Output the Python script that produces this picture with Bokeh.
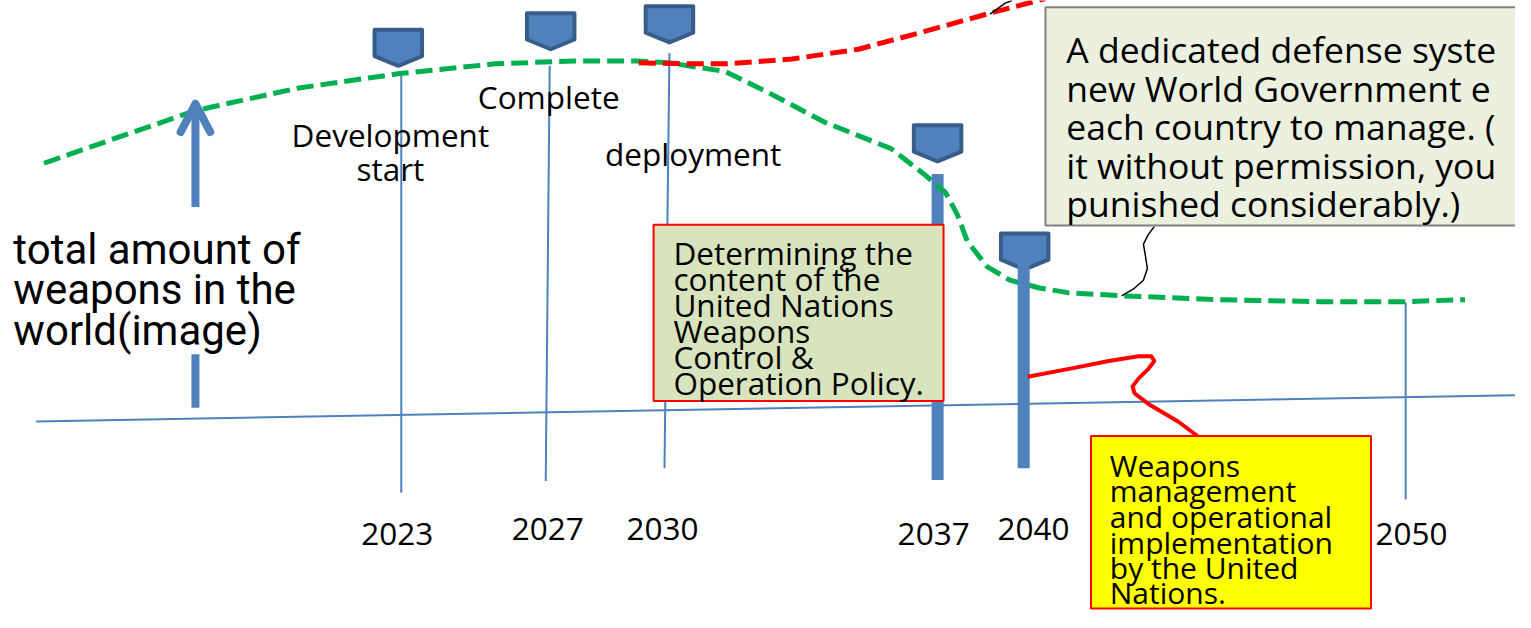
from bokeh.plotting import figure
from bokeh.models import Range1d
from bokeh.core.properties import value
from bokeh.embed import file_html
from bokeh.resources import INLINE

# ---------------- data ----------------
year_labels = ["2023", "2027", "2030", "2037", "2040", "2050"]
year_label_x = [401, 553, 669, 943, 1044, 1426]
year_label_y = [547, 542, 542, 547, 542, 547]

# thin milestone lines (top -> bottom)
thin_x0 = [405, 555, 676, 1420]
thin_y0 = [76, 67, 54, 310]
thin_x1 = [405, 551, 671, 1420]
thin_y1 = [505, 493, 480, 512]

# thick bars (2037, 2040)
bar_x = [947, 1034]
bar_top = [178, 258]
bar_bottom = [492, 480]

# milestone shield markers (center x, top y)
marker_x = [402, 556, 676, 947, 1035]
marker_top = [30, 13, 6, 128, 239]

# green dashed: total amount of weapons
green_x = [44, 120, 197, 300, 403, 500, 580, 643, 676, 733, 777, 833, 900, 933,
           955, 967, 977, 997, 1020, 1050, 1080, 1133, 1230, 1333, 1420, 1480]
green_y = [167, 140, 113, 90, 75, 65, 62, 62, 64, 73, 95, 125, 152, 178,
           197, 220, 247, 273, 287, 295, 300, 303, 307, 309, 309, 307]

# red dashed: alternative path
red_x = [645, 700, 733, 800, 867, 933, 1000, 1030, 1056]
red_y = [64, 65, 65, 60, 50, 32, 13, 5, -2]

# baseline (time axis)
base_x = [36, 1531]
base_y = [432, 405]

# left arrow
arrow_x = 197
arrow_low = [363, 418]
arrow_high = [110, 212]
arrow_head_x = [182, 197, 212]
arrow_head_y = [135, 106, 135]

left_lines = ["total amount of", "weapons in the", "world(image)"]
left_y = [255, 297, 339]

stage_labels = ["Development", "start", "Complete", "deployment"]
stage_x = [394, 394, 554, 700]
stage_y = [138, 172, 98, 157]

green_box = dict(left=660, right=953, top=230, bottom=411)
green_lines = ["Determining the", "content of the", "United Nations", "Weapons",
               "Control &", "Operation Policy."]
green_text_y = [259, 285.5, 312, 338.5, 365, 391.5]

yellow_box = dict(left=1102, right=1385, top=447, bottom=624)
yellow_lines = ["Weapons", "management", "and operational", "implementation",
                "by the United", "Nations."]
yellow_text_y = [477, 503, 529.5, 556, 582, 607]

top_box = dict(left=1056, right=1600, top=7, bottom=231)
# the box runs past the right edge of the picture; only the visible part is written
top_lines = ["A dedicated defense syste",
             "new World Government e",
             "each country to manage. (",
             "it without permission, you",
             "punished considerably.)"]
top_text_y = [50, 89.5, 129, 168.5, 208]

connector_x = [1038, 1080, 1120, 1150, 1163, 1166, 1160, 1150, 1144, 1146, 1160, 1190, 1215]
connector_y = [386, 378, 370, 365, 365, 370, 378, 388, 396, 403, 414, 432, 451]

callout_x = [1166, 1160, 1155, 1157, 1159, 1155, 1145, 1133]
callout_y = [232, 240, 250, 262, 275, 287, 296, 303]
callout2_x = [1000, 1008, 1015, 1022]
callout2_y = [14, 8, 3, 0]

BLUE = "#4F81BD"
BLUE_DARK = "#385D8A"

# ---------------- figure ----------------
p = figure(width=1515, height=612, x_range=Range1d(0, 1531), y_range=Range1d(628, 0),
           output_backend="svg", toolbar_location=None, min_border=0,
           x_axis_type=None, y_axis_type=None)
p.grid.visible = False
p.outline_line_color = None
p.background_fill_color = "white"

OS = value("Open Sans")

# baseline
p.line(base_x, base_y, line_color=BLUE, line_width=2)
# thin lines
p.segment(thin_x0, thin_y0, thin_x1, thin_y1, line_color=BLUE, line_width=2)
# bar 2037 (under the green box)
p.segment(bar_x[:1], bar_top[:1], bar_x[:1], bar_bottom[:1], line_color=BLUE, line_width=12)

# curves
p.line(green_x, green_y, line_color="#00B050", line_width=5, line_dash="17 7")
p.line(red_x, red_y, line_color="#FF0000", line_width=5, line_dash="17 7")

# arrow
p.segment([arrow_x, arrow_x], [arrow_low[0], arrow_high[0]], [arrow_x, arrow_x],
          [arrow_low[1], arrow_high[1]], line_color=BLUE, line_width=8)
p.line(arrow_head_x, arrow_head_y, line_color=BLUE, line_width=8,
       line_join="round", line_cap="round")

# shield markers
shape_dx = [-24, 24, 24, 0, -24]
shape_dy = [0, 0, 27, 37, 27]
xs = [[mx + d for d in shape_dx] for mx in marker_x]
ys = [[mt + d for d in shape_dy] for mt in marker_top]
p.patches(xs, ys, fill_color=BLUE, line_color=BLUE_DARK, line_width=4, line_join="round")

# bar 2040 (on top of marker and curve)
p.segment(bar_x[1:], bar_top[1:], bar_x[1:], bar_bottom[1:], line_color=BLUE, line_width=12)

# green box
p.quad(left=[green_box["left"]], right=[green_box["right"]], top=[green_box["top"]],
       bottom=[green_box["bottom"]], fill_color="#D7E4BD", line_color="#FF0000", line_width=2)
p.text([680] * len(green_lines), green_text_y, text=green_lines, text_font=OS,
       text_font_size=value("31.5px"), text_color="black", text_baseline="alphabetic")

# connector + yellow box
p.line(connector_x, connector_y, line_color="#FF0000", line_width=4, line_join="round")
p.quad(left=[yellow_box["left"]], right=[yellow_box["right"]], top=[yellow_box["top"]],
       bottom=[yellow_box["bottom"]], fill_color="#FFFF00", line_color="#FF0000", line_width=2)
p.text([1121] * len(yellow_lines), yellow_text_y, text=yellow_lines, text_font=OS,
       text_font_size=value("30px"), text_color="black", text_baseline="alphabetic")

# top box
p.line(callout_x, callout_y, line_color="black", line_width=1.5)
p.line(callout2_x, callout2_y, line_color="black", line_width=1.5)
p.quad(left=[top_box["left"]], right=[top_box["right"]], top=[top_box["top"]],
       bottom=[top_box["bottom"]], fill_color="#EBF1DE", line_color="#808080", line_width=2)
p.text([1077] * len(top_lines), top_text_y, text=top_lines, text_font=OS,
       text_font_size=value("35.5px"), text_color="black", text_baseline="alphabetic")

# left label
p.text([13] * len(left_lines), left_y, text=left_lines, text_font=value("Roboto"),
       text_font_size=value("42px"), text_color="black", text_baseline="alphabetic")

# stage labels
p.text(stage_x, stage_y, text=stage_labels, text_font=OS, text_font_size=value("31.5px"),
       text_color="black", text_align="center", text_baseline="alphabetic")

# year labels
p.text(year_label_x, year_label_y, text=year_labels, text_font=OS,
       text_font_size=value("31.5px"), text_color="black", text_align="center",
       text_baseline="alphabetic")

open("out.html", "w").write(file_html(p, INLINE))
